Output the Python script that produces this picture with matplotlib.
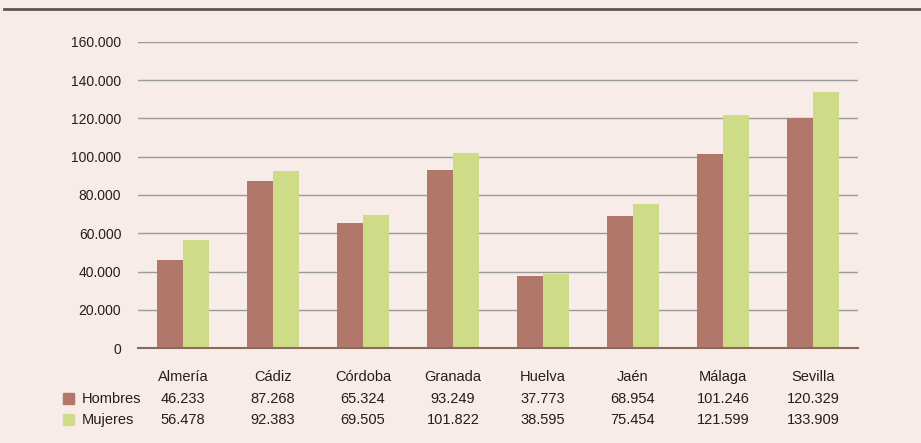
import matplotlib
matplotlib.use("Agg")
import matplotlib.pyplot as plt
import numpy as np
from matplotlib.lines import Line2D
from matplotlib.patches import Rectangle

categories = ["Almería", "Cádiz", "Córdoba", "Granada", "Huelva", "Jaén", "Málaga", "Sevilla"]
hombres = [46233, 87268, 65324, 93249, 37773, 68954, 101246, 120329]
mujeres = [56478, 92383, 69505, 101822, 38595, 75454, 121599, 133909]
hombres_lbl = ["46.233", "87.268", "65.324", "93.249", "37.773", "68.954", "101.246", "120.329"]
mujeres_lbl = ["56.478", "92.383", "69.505", "101.822", "38.595", "75.454", "121.599", "133.909"]
yticks = [0, 20000, 40000, 60000, 80000, 100000, 120000, 140000, 160000]
ytick_lbl = ["0", "20.000", "40.000", "60.000", "80.000", "100.000", "120.000", "140.000", "160.000"]

plt.rcParams['font.family'] = ['Liberation Sans', 'DejaVu Sans']
bg = "#F7ECE7"
c_h = "#B0776A"
c_m = "#CFDC87"
txt = "#231F20"

fig = plt.figure(figsize=(9.21, 4.43), dpi=100, facecolor=bg)
ax = fig.add_axes([138/921, 1-348/443, 720/921, (348-42)/443])
ax.set_facecolor(bg)
x = np.arange(len(categories))
w = 0.29
ax.bar(x - w/2, hombres, w, color=c_h, zorder=3)
ax.bar(x + w/2, mujeres, w, color=c_m, zorder=3)
ax.set_xlim(-0.5, len(categories) - 0.5)
ax.set_ylim(0, 160000)
ax.set_yticks(yticks)
ax.set_yticklabels(ytick_lbl, fontsize=10, color=txt)
ax.yaxis.grid(True, color="#9A9A9A", linewidth=1, zorder=0)
ax.set_xticks([])
ax.tick_params(axis='y', length=0, pad=12)
for s in ["top", "right", "left"]:
    ax.spines[s].set_visible(False)
ax.spines["bottom"].set_color("#8A6A5C")
ax.spines["bottom"].set_linewidth(1.5)
ax.spines["bottom"].set_zorder(4)

trans = ax.get_xaxis_transform()
for i in range(len(categories)):
    ax.text(x[i], -(377-348)/306, categories[i], ha="center", va="center", fontsize=10.5, color=txt, transform=trans)
    ax.text(x[i], -(399-348)/306, hombres_lbl[i], ha="center", va="center", fontsize=10.5, color=txt, transform=trans)
    ax.text(x[i], -(420-348)/306, mujeres_lbl[i], ha="center", va="center", fontsize=10.5, color=txt, transform=trans)

# legend squares
for yy, col, lab in [(399, c_h, "Hombres"), (420, c_m, "Mujeres")]:
    fig.patches.append(Rectangle(((63)/921, 1-(yy+5)/443), 11/921, 11/443, color=col, transform=fig.transFigure))
    fig.text(82/921, 1-yy/443, lab, ha="left", va="center", fontsize=10.5, color=txt)

# top rule
fig.lines.append(Line2D([4/921, 1], [1-9/443, 1-9/443], color="#5E5450", linewidth=2, transform=fig.transFigure))

fig.savefig("out.png", dpi=100, facecolor=bg)
